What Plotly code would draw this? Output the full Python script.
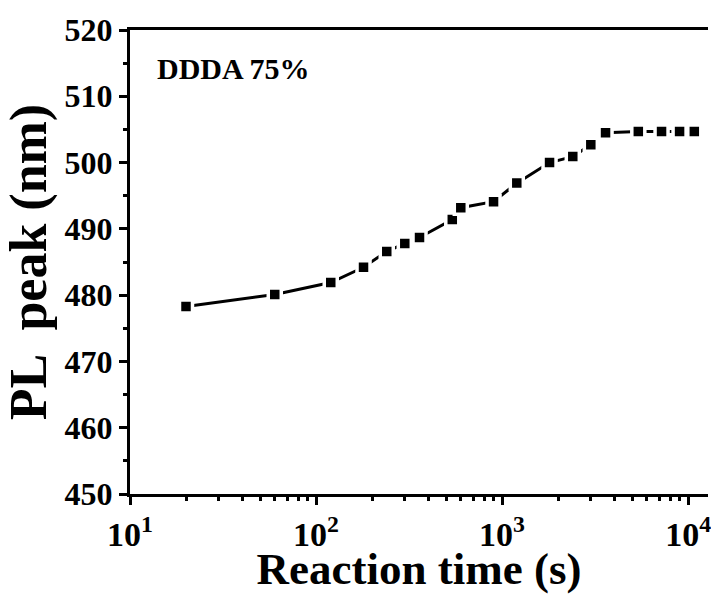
import plotly.graph_objects as go

time_s = [20, 60, 120, 180, 240, 300, 360, 540, 600, 900, 1200, 1800, 2400, 3000, 3600, 5400, 7200, 9000, 10800]
pl_peak = [478.3, 480.1, 481.9, 484.2, 486.6, 487.8, 488.7, 491.4, 493.2, 494.1, 496.9, 500.0, 500.9, 502.7, 504.5, 504.7, 504.7, 504.7, 504.7]

x_tickvals = [10, 100, 1000, 10000]
x_ticktext = ["10<sup>1</sup>", "10<sup>2</sup>", "10<sup>3</sup>", "10<sup>4</sup>"]
x_minor = [m * d for d in (10, 100, 1000) for m in range(2, 10)]
y_tickvals = [450, 460, 470, 480, 490, 500, 510, 520]
label_text = "DDDA 75%"
x_title = "Reaction time (s)"
y_title = "PL  peak (nm)"

FONT = "Liberation Serif, Times New Roman, serif"

fig = go.Figure()
fig.add_trace(go.Scatter(
    x=time_s, y=pl_peak, mode="lines+markers",
    line=dict(color="black", width=3),
    marker=dict(symbol="square", size=13, color="black",
                line=dict(color="white", width=3.5)),
    showlegend=False,
))

fig.add_annotation(
    x=0.043, y=0.918, xref="paper", yref="paper",
    text="<b>" + label_text + "</b>", showarrow=False,
    xanchor="left", yanchor="middle",
    font=dict(family=FONT, size=30, color="black"),
)

fig.update_layout(
    width=711, height=594,
    margin=dict(l=130, r=0, t=30, b=100),
    paper_bgcolor="white", plot_bgcolor="white",
    font=dict(family=FONT, color="black"),
)

fig.update_xaxes(
    type="log", range=[1, 4.107], side="bottom",
    tickvals=x_tickvals, ticktext=x_ticktext, ticklabeloverflow="allow",
    ticks="outside", ticklen=8, tickwidth=2.5, tickcolor="black",
    minor=dict(tickvals=x_minor, ticks="outside", ticklen=4, tickwidth=2.5,
               tickcolor="black", showgrid=False),
    showline=True, linewidth=3, linecolor="black", mirror=True,
    showgrid=False, zeroline=False,
    tickfont=dict(family=FONT, size=34, color="black", weight="bold"),
    title=dict(text=x_title, standoff=0,
               font=dict(family=FONT, size=45, color="black", weight="bold")),
)

fig.update_yaxes(
    range=[450, 520],
    tickvals=y_tickvals,
    ticks="outside", ticklen=8, tickwidth=2.5, tickcolor="black",
    minor=dict(dtick=5, ticks="outside", ticklen=4, tickwidth=2.5,
               tickcolor="black", showgrid=False),
    showline=True, linewidth=3, linecolor="black", mirror=False,
    showgrid=False, zeroline=False,
    tickfont=dict(family=FONT, size=32, color="black", weight="bold"),
    title=dict(text=y_title, standoff=10,
               font=dict(family=FONT, size=52, color="black", weight="bold")),
)

fig.write_html(
    "out.html", config={"displayModeBar": False},
    post_script=("document.body.style.margin='0';"
                 "document.body.style.overflow='hidden';"
                 "document.documentElement.style.overflow='hidden';"),
)
